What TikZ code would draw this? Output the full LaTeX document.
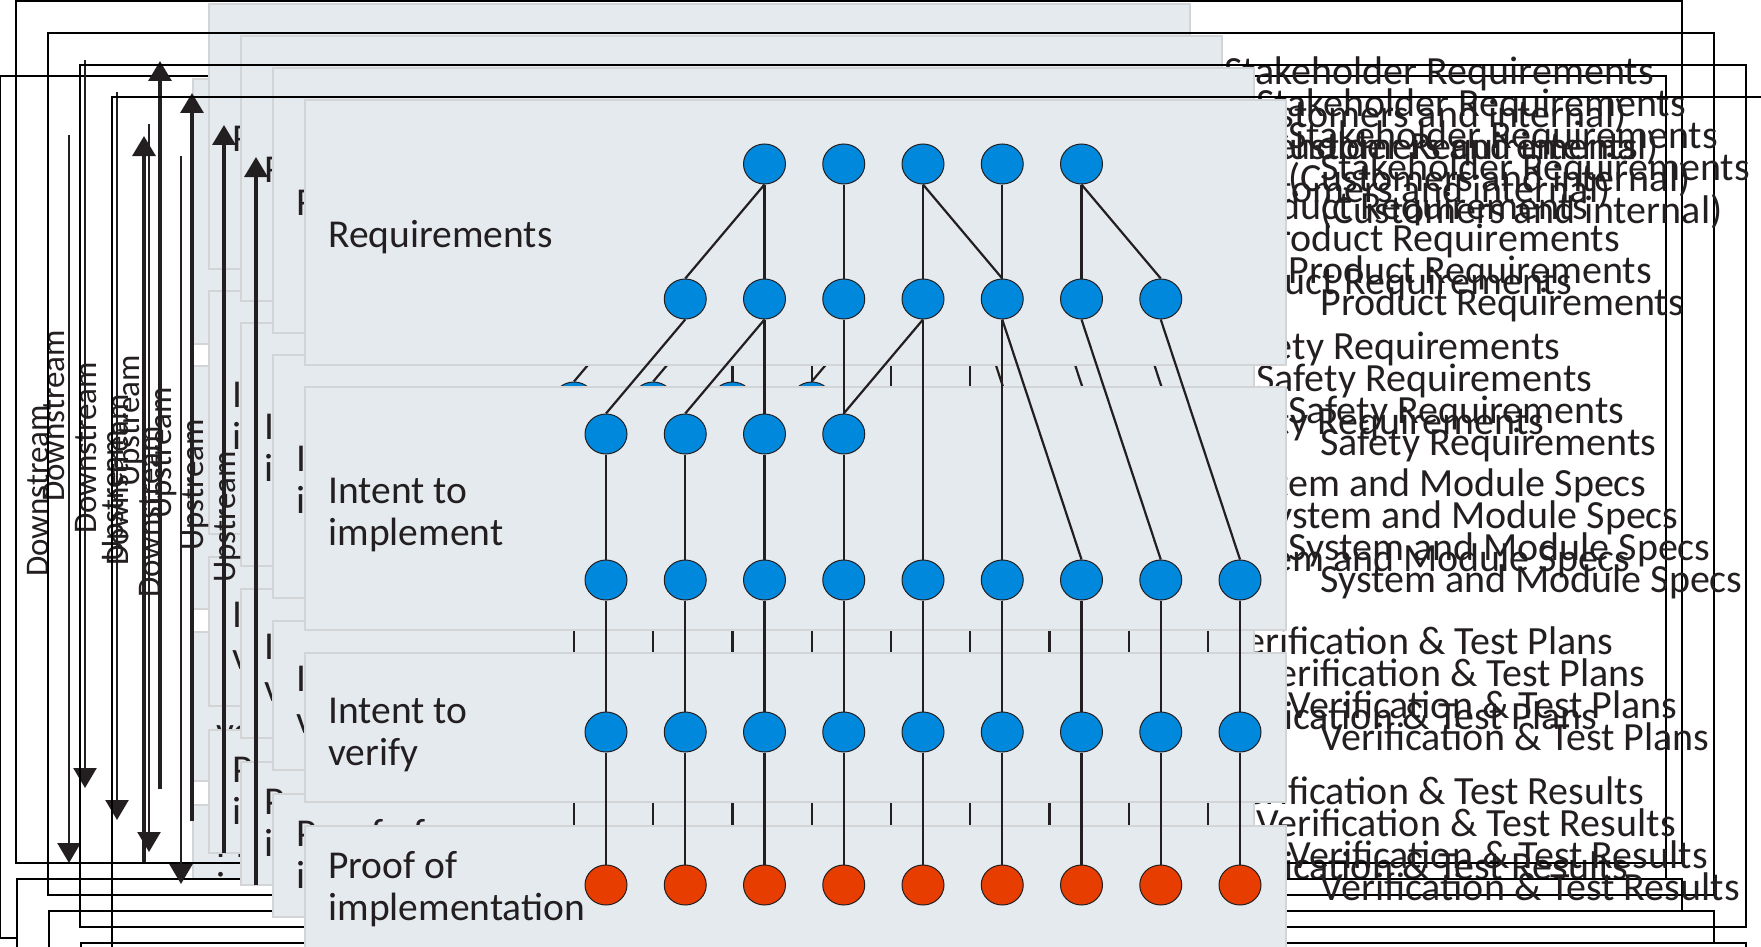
\documentclass[tikz,border=0pt]{standalone}
\usepackage{fontspec}
\setmainfont{Carlito}
\usetikzlibrary{arrows.meta,shapes.geometric}

\definecolor{panelgrey}{HTML}{E5EAEF}
\definecolor{paneledge}{HTML}{D2D4D6}
\definecolor{nodeblue}{HTML}{0088DD}
\definecolor{nodered}{HTML}{E83D00}
\definecolor{inkdark}{HTML}{231F20}

\tikzset{
	frame/.style={draw=black, line width=1.1pt},
	lowbox/.style={draw=black, fill=white, line width=1.1pt},
	panel/.style={fill=panelgrey, draw=paneledge, line width=0.8pt},
	downline/.style={draw=inkdark, line width=1.2pt, -{Triangle[width=11.5pt,length=10pt]}},
	upline/.style={draw=inkdark, line width=1.6pt, -{Triangle[width=11.5pt,length=10pt]}},
	sidelabel/.style={rotate=90, inner sep=0pt, text=inkdark, font=\fontsize{16.5pt}{18pt}\selectfont},
	rowlabel/.style={anchor=base west, align=left, inner sep=0pt, text=inkdark, font=\fontsize{19.75pt}{20.85pt}\selectfont},
	reqtext/.style={anchor=west, align=left, inner sep=0pt, text=inkdark, font=\fontsize{20pt}{21.5pt}\selectfont},
	item/.style={ellipse, draw=inkdark, line width=0.5pt, fill=nodeblue, minimum width=21pt, minimum height=20pt, inner sep=0pt},
	proof/.style={item, fill=nodered},
	link/.style={draw=inkdark, line width=1.1pt},
}

\tikzset{
	pics/tracemap/.style={code={
		% frame and the box under it
		\draw[frame] (112,97) rectangle (1778,959);
		\draw[lowbox] (113,975) rectangle (1778,1120);
		% downstream / upstream
		\coordinate (dtop) at (181,156);
		\coordinate (dend) at (181,884);
		\coordinate (ubot) at (256,885);
		\coordinate (uend) at (256,157);
		\draw[downline] (dtop) -- (dend);
		\draw[upline] (ubot) -- (uend);
		\node[sidelabel] (down) at (150,512) {Downstream};
		\node[sidelabel] (up) at (228,517) {Upstream};
		% bands
		\draw[panel] (305,100) rectangle (1286,365);
		\draw[panel] (305,387) rectangle (1286,630);
		\draw[panel] (305,653) rectangle (1286,802);
		\draw[panel] (305,826) rectangle (1286,949);
		\node[rowlabel] (lreq) at (328,247) {Requirements};
		\node[rowlabel] (limp) at (328,545) {Intent to\\implement};
		\node[rowlabel] (lver) at (328,765) {Intent to\\verify};
		\node[rowlabel] (lprf) at (328,920) {Proof of\\implementation};
		% items
		\foreach \c in {2,...,6}
			\node[item] (stk\c) at ({606+79.25*\c},164) {};
		\foreach \c in {1,...,7}
			\node[item] (prd\c) at ({606+79.25*\c},299) {};
		\foreach \c in {0,...,3}
			\node[item] (saf\c) at ({606+79.25*\c},434) {};
		\foreach \c in {0,...,8} {
			\node[item] (sys\c) at ({606+79.25*\c},580) {};
			\node[item] (pln\c) at ({606+79.25*\c},732) {};
			\node[proof] (res\c) at ({606+79.25*\c},885) {};
		}
		% links
		\foreach \a/\b in {stk2/prd1, stk2/prd2, stk3/prd3, stk4/prd4, stk4/prd5,
				stk5/prd5, stk6/prd6, stk6/prd7, prd1/saf0, prd2/saf1, prd2/saf2,
				prd3/saf3, prd4/saf3, prd4/sys4, prd5/sys5, prd5/sys6, prd6/sys7,
				prd7/sys8, saf0/sys0, saf1/sys1, saf2/sys2, saf3/sys3}
			\draw[link] (\a.south) -- (\b.north);
		\foreach \c in {0,...,8} {
			\draw[link] (sys\c.south) -- (pln\c.north);
			\draw[link] (pln\c.south) -- (res\c.north);
		}
		% row names
		\node[reqtext] (tstk) at (1320,191) {Stakeholder Requirements\\(Customers and internal)};
		\node[reqtext] (tprd) at (1320,305) {Product Requirements};
		\node[reqtext] (tsaf) at (1320,445) {Safety Requirements};
		\node[reqtext] (tsys) at (1320,582) {System and Module Specs};
		\node[reqtext] (tpln) at (1320,737) {Verification \& Test Plans};
		\node[reqtext] (tres) at (1320,887) {Verification \& Test Results};
	}}
}

\begin{document}
\begin{tikzpicture}[x=0.5pt,y=-0.5pt]
	\fill[white] (0,0) rectangle (1761,947);
	\begin{scope}
		\clip (0,0) rectangle (1761,947);
		\pic (cx) at (-112,-21) {tracemap};
		\pic (ca) at (-96,-96) {tracemap};
		\pic (cb) at (-64,-64) {tracemap};
		\pic (cc) at (-32,-32) {tracemap};
		\pic (cd) at (0,0) {tracemap};
	\end{scope}
	\pgfresetboundingbox
	\useasboundingbox (0,0) rectangle (1761,947);
\end{tikzpicture}
\end{document}
